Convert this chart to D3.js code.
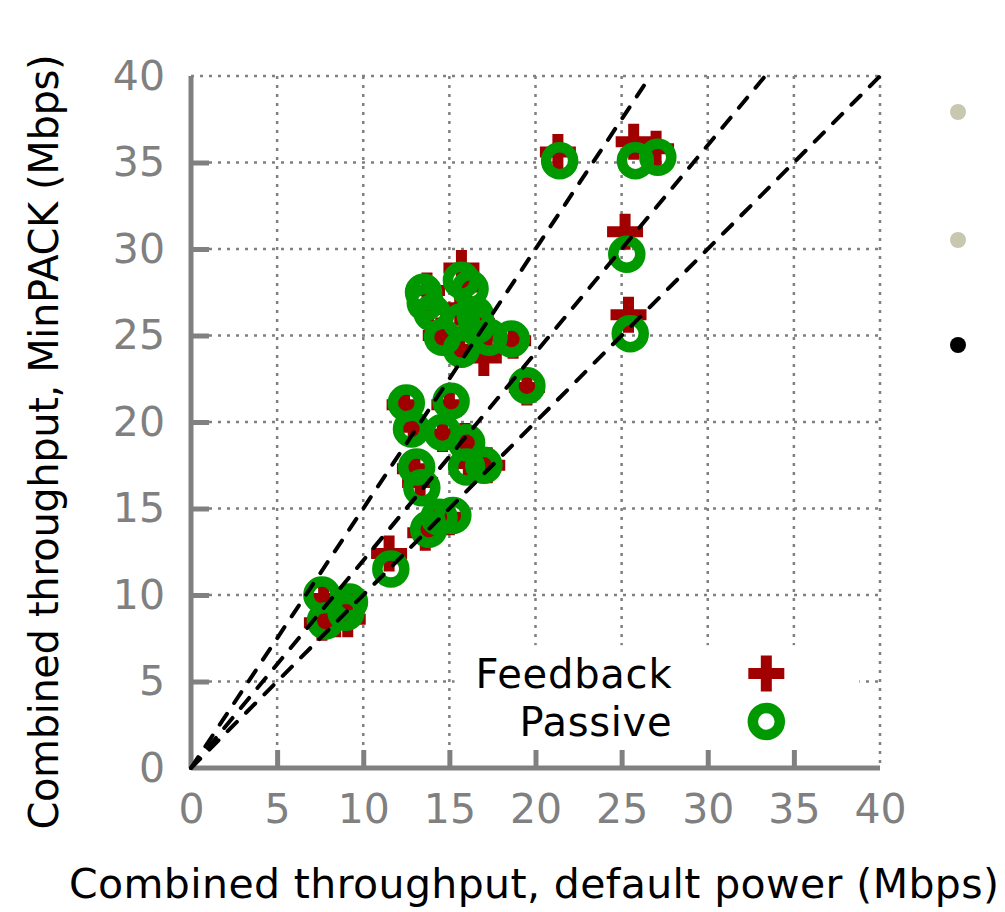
<!DOCTYPE html>
<html>
<head>
<meta charset="utf-8">
<script src="https://cdn.jsdelivr.net/npm/d3@7"></script>
<style>
  body { margin: 0; background: #fff; }
  text { font-family: "DejaVu Sans", sans-serif; }
</style>
</head>
<body>
<div id="chart"></div>
<script>
var svgWidth = 1005;
var svgHeight = 912;

var margin = { top: 76, right: 125, bottom: 144, left: 191 };
var width = svgWidth - margin.left - margin.right;
var height = svgHeight - margin.top - margin.bottom;

// ticks
var xTicks = [0, 5, 10, 15, 20, 25, 30, 35, 40];
var yTicks = [0, 5, 10, 15, 20, 25, 30, 35, 40];

// reference lines y = k * x
var slopes = [1.5, 1.2, 1];

// Feedback (x: default power, y: MinPACK)
var feedbackX = [21.3, 25.7, 27.0, 25.2, 25.4, 19.5, 18.7, 17.0,
  15.7, 16.0, 13.7, 13.8, 14.8, 15.6, 16.6, 17.2, 15.6, 14.5,
  12.4, 15.0, 12.9, 14.6, 15.9, 13.0, 16.1, 17.2, 13.3, 14.2, 15.0, 13.6,
  11.5, 7.7, 9.1, 7.6, 9.1, 8.4];
var feedbackY = [35.6, 36.2, 35.8, 31.0, 26.2, 22.0, 24.7, 23.7,
  28.9, 27.8, 27.6, 26.5, 25.2, 26.6, 25.7, 25.0, 24.2, 25.0,
  21.0, 21.0, 19.7, 19.3, 18.9, 17.3, 17.6, 17.5, 16.5, 14.3, 14.5, 13.6,
  12.4, 9.8, 9.6, 8.4, 8.6, 8.6];

// Passive
var passiveX = [21.4, 25.8, 27.1, 25.3, 25.5, 19.5, 18.6,
  15.7, 16.2, 13.5, 13.6, 14.0, 14.6, 15.7, 16.6, 17.3, 15.7, 16.5,
  12.5, 15.1, 12.8, 14.6, 16.0, 13.1, 16.0, 17.0, 13.4, 14.4, 15.2, 13.8,
  11.6, 7.6, 9.2, 7.8, 9.0];
var passiveY = [35.1, 35.1, 35.3, 29.7, 25.1, 22.1, 24.8,
  28.2, 27.7, 27.5, 26.9, 26.3, 24.9, 25.8, 25.6, 24.9, 24.2, 26.2,
  21.1, 21.2, 19.6, 19.4, 18.8, 17.4, 17.4, 17.5, 16.2, 14.5, 14.6, 13.8,
  11.5, 10.0, 9.6, 8.5, 9.0];

var legendLabels = ["Feedback", "Passive"];

var red = "#a00000";
var green = "#009900";
var gray = "#808080";

var svg = d3.select("#chart")
  .append("svg")
  .attr("width", svgWidth)
  .attr("height", svgHeight);

var chartGroup = svg.append("g")
  .attr("transform", `translate(${margin.left}, ${margin.top})`);

var x = d3.scaleLinear().domain([0, 40]).range([0, width]);
var y = d3.scaleLinear().domain([0, 40]).range([height, 0]);

// dotted grid (incl. top and right border)
chartGroup.append("g").selectAll("line")
  .data(xTicks.slice(1))
  .enter().append("line")
  .attr("x1", d => x(d)).attr("x2", d => x(d))
  .attr("y1", 0).attr("y2", height)
  .attr("stroke", gray).attr("stroke-width", 2.5)
  .attr("stroke-dasharray", "3,6");

chartGroup.append("g").selectAll("line")
  .data(yTicks.slice(1))
  .enter().append("line")
  .attr("x1", 0).attr("x2", width)
  .attr("y1", d => y(d)).attr("y2", d => y(d))
  .attr("stroke", gray).attr("stroke-width", 2.5)
  .attr("stroke-dasharray", "3,6");

// axes
var bottomAxis = d3.axisBottom(x).tickValues(xTicks).tickSize(-18).tickPadding(30);
var leftAxis = d3.axisLeft(y).tickValues(yTicks).tickSize(-18).tickPadding(26);

var gx = chartGroup.append("g")
  .attr("transform", `translate(0, ${height})`)
  .call(bottomAxis);
var gy = chartGroup.append("g").call(leftAxis);

[gx, gy].forEach(function(g) {
  g.select(".domain").attr("stroke", gray).attr("stroke-width", 5);
  g.selectAll(".tick line").attr("stroke", gray).attr("stroke-width", 5);
  g.selectAll(".tick text")
    .attr("fill", gray)
    .style("font-size", "41px")
    .style("font-family", "DejaVu Sans");
});
// ticks at the far ends sit on the border, hide them
gx.selectAll(".tick line").filter(d => d === 0 || d === 40).remove();
gy.selectAll(".tick line").filter(d => d === 0 || d === 40).remove();
gx.select(".domain").attr("d", `M0,0H${width}`);
gy.select(".domain").attr("d", `M0,0V${height}`);
gx.selectAll(".tick text").attr("dy", "0.62em");

// points
var feedback = feedbackX.map((v, i) => ({ x: v, y: feedbackY[i] }));
var passive = passiveX.map((v, i) => ({ x: v, y: passiveY[i] }));

var plusPath = "M-18,0H18M0,-18V18";

chartGroup.append("g").selectAll("path")
  .data(feedback)
  .enter().append("path")
  .attr("d", plusPath)
  .attr("transform", d => `translate(${x(d.x)}, ${y(d.y)})`)
  .attr("stroke", red)
  .attr("stroke-width", 11)
  .attr("fill", "none");

chartGroup.append("g").selectAll("circle")
  .data(passive)
  .enter().append("circle")
  .attr("cx", d => x(d.x))
  .attr("cy", d => y(d.y))
  .attr("r", 13.5)
  .attr("stroke", green)
  .attr("stroke-width", 10.5)
  .attr("fill", "none");

// reference lines, drawn over the points
chartGroup.append("g").selectAll("line")
  .data(slopes)
  .enter().append("line")
  .attr("x1", x(0)).attr("y1", y(0))
  .attr("x2", d => x(40 / d)).attr("y2", y(40))
  .attr("stroke", "#000")
  .attr("stroke-width", 4)
  .attr("stroke-linecap", "round")
  .attr("stroke-dasharray", "13,13");

// legend
var legend = chartGroup.append("g");
legend.append("rect")
  .attr("x", x(15.3)).attr("y", y(7.1))
  .attr("width", x(38.8) - x(15.3))
  .attr("height", y(1.2) - y(7.1))
  .attr("fill", "#fff");

legendLabels.forEach(function(label, i) {
  var ly = y(5) - 8 + i * 48;
  legend.append("text")
    .attr("x", x(27.9))
    .attr("y", ly)
    .attr("dy", "0.36em")
    .attr("text-anchor", "end")
    .style("font-size", "40px")
    .attr("textLength", i === 0 ? 196 : 152)
    .text(label);
  if (i === 0) {
    legend.append("path")
      .attr("d", plusPath)
      .attr("transform", `translate(${x(33.4)}, ${ly})`)
      .attr("stroke", red).attr("stroke-width", 11).attr("fill", "none");
  } else {
    legend.append("circle")
      .attr("cx", x(33.4)).attr("cy", ly).attr("r", 13.5)
      .attr("stroke", green).attr("stroke-width", 10.5).attr("fill", "none");
  }
});

// axis titles
svg.append("text")
  .attr("x", 534)
  .attr("y", 898)
  .attr("text-anchor", "middle")
  .style("font-size", "41px")
  .attr("textLength", 930)
  .text("Combined throughput, default power (Mbps)");

svg.append("text")
  .attr("transform", `translate(44, ${margin.top + height / 2 + 20}) rotate(-90)`)
  .attr("text-anchor", "middle")
  .attr("dy", "0.35em")
  .style("font-size", "40px")
  .attr("textLength", 775)
  .text("Combined throughput, MinPACK (Mbps)");

// stray markers at the right edge
var edgeDots = [
  { cy: 112, fill: "#c8c8b0" },
  { cy: 240, fill: "#c8c8b0" },
  { cy: 345, fill: "#000" }
];
svg.append("g").selectAll("circle")
  .data(edgeDots)
  .enter().append("circle")
  .attr("cx", 958)
  .attr("cy", d => d.cy)
  .attr("r", 8)
  .attr("fill", d => d.fill);
</script>
</body>
</html>
